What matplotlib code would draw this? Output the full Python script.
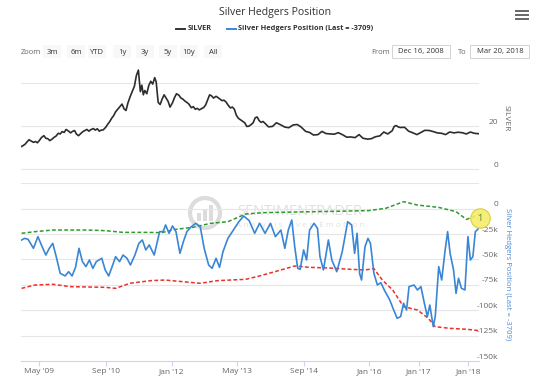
import matplotlib.pyplot as plt
from matplotlib.patches import Rectangle, Ellipse
import matplotlib.transforms as mtransforms

plt.rcParams['font.family'] = ['Open Sans', 'DejaVu Sans']

W, H = 550, 389

# silver price, USD (x = decimal year)
silver_t = [2008.96, 2009.00, 2009.04, 2009.08, 2009.12, 2009.17, 2009.21, 2009.25, 2009.29, 2009.33,
            2009.37, 2009.42, 2009.46, 2009.50, 2009.54, 2009.58, 2009.62, 2009.67, 2009.71, 2009.75,
            2009.79, 2009.83, 2009.87, 2009.92, 2009.96, 2010.00, 2010.04, 2010.08, 2010.12, 2010.17,
            2010.21, 2010.25, 2010.29, 2010.33, 2010.37, 2010.42, 2010.46, 2010.50, 2010.54, 2010.58,
            2010.62, 2010.67, 2010.71, 2010.75, 2010.79, 2010.83, 2010.87, 2010.92, 2010.96, 2011.00,
            2011.04, 2011.08, 2011.12, 2011.17, 2011.21, 2011.25, 2011.29, 2011.33, 2011.37, 2011.40,
            2011.43, 2011.46, 2011.50, 2011.54, 2011.58, 2011.62, 2011.66, 2011.69, 2011.73, 2011.77,
            2011.81, 2011.85, 2011.89, 2011.93, 2011.97, 2012.02, 2012.06, 2012.10, 2012.15, 2012.19,
            2012.23, 2012.27, 2012.31, 2012.35, 2012.40, 2012.44, 2012.48, 2012.52, 2012.56, 2012.60,
            2012.65, 2012.69, 2012.73, 2012.77, 2012.81, 2012.85, 2012.90, 2012.94, 2012.98, 2013.02,
            2013.06, 2013.10, 2013.15, 2013.19, 2013.23, 2013.27, 2013.31, 2013.35, 2013.40, 2013.44,
            2013.48, 2013.52, 2013.56, 2013.60, 2013.65, 2013.69, 2013.73, 2013.77, 2013.81, 2013.85,
            2013.90, 2013.96, 2014.04, 2014.12, 2014.21, 2014.29, 2014.37, 2014.46, 2014.54, 2014.62,
            2014.71, 2014.79, 2014.87, 2014.96, 2015.04, 2015.12, 2015.21, 2015.29, 2015.37, 2015.46,
            2015.54, 2015.62, 2015.71, 2015.79, 2015.87, 2015.96, 2016.04, 2016.12, 2016.21, 2016.29,
            2016.37, 2016.46, 2016.50, 2016.54, 2016.58, 2016.62, 2016.71, 2016.79, 2016.87, 2016.96,
            2017.04, 2017.12, 2017.21, 2017.29, 2017.37, 2017.46, 2017.54, 2017.62, 2017.71, 2017.79,
            2017.87, 2017.96, 2018.04, 2018.12, 2018.21]
silver_v = [10.4, 10.9, 11.5, 12.6, 13.6, 12.9, 12.4, 12.8, 12.2, 13.3,
            14.6, 15.5, 14.3, 14.1, 13.2, 13.8, 14.6, 15.4, 16.6, 16.3,
            17.4, 17.0, 18.4, 17.6, 16.8, 17.5, 17.9, 16.2, 15.5, 16.6,
            17.4, 17.9, 18.4, 17.6, 18.3, 18.8, 18.1, 18.7, 17.6, 18.1,
            18.2, 19.4, 20.8, 22.0, 23.6, 24.8, 26.6, 28.0, 29.2, 30.2,
            28.0, 27.2, 30.8, 34.0, 36.2, 38.5, 43.5, 46.0, 36.0, 39.0,
            34.5, 36.5, 35.0, 38.8, 40.8, 39.5, 42.5, 40.5, 31.0, 30.0,
            32.5, 34.5, 33.0, 31.5, 28.8, 30.8, 33.2, 35.0, 34.3, 33.0,
            32.5, 31.6, 31.0, 30.2, 28.5, 29.0, 27.8, 28.2, 27.5, 28.0,
            28.6, 29.8, 32.2, 34.5, 34.0, 33.0, 33.8, 33.2, 32.5, 31.8,
            32.0, 31.2, 29.5, 28.4, 28.8, 27.8, 25.0, 23.6, 22.8, 22.2,
            21.5, 19.8, 19.9, 20.5, 21.5, 23.8, 24.2, 22.5, 21.7, 22.1,
            21.0, 19.6, 19.8, 21.5, 20.5, 19.5, 19.2, 20.5, 20.7, 19.5,
            17.5, 17.0, 15.8, 16.0, 17.5, 16.5, 16.3, 16.2, 16.9, 15.9,
            14.8, 14.9, 14.6, 16.0, 14.3, 13.9, 14.1, 15.0, 15.4, 17.2,
            16.3, 17.8, 19.8, 20.2, 19.6, 19.3, 19.4, 17.6, 16.9, 16.0,
            17.0, 18.0, 17.9, 17.4, 16.8, 16.6, 16.0, 17.2, 16.8, 17.1,
            16.9, 16.3, 17.2, 16.6, 16.4]

# hedgers net position, thousands of contracts
hedge_t = [2008.97, 2009.03, 2009.10, 2009.21, 2009.30, 2009.37, 2009.46, 2009.53, 2009.60, 2009.67,
           2009.75, 2009.85, 2009.92, 2009.99, 2010.06, 2010.13, 2010.20, 2010.27, 2010.34, 2010.41,
           2010.48, 2010.59, 2010.66, 2010.73, 2010.80, 2010.87, 2010.95, 2011.02, 2011.10, 2011.17,
           2011.26, 2011.34, 2011.41, 2011.48, 2011.55, 2011.65, 2011.76, 2011.83, 2011.88, 2011.95,
           2012.02, 2012.09, 2012.17, 2012.24, 2012.31, 2012.40, 2012.49, 2012.58, 2012.66, 2012.75,
           2012.82, 2012.90, 2012.97, 2013.04, 2013.14, 2013.25, 2013.36, 2013.46, 2013.57, 2013.68,
           2013.78, 2013.89, 2014.00, 2014.10, 2014.21, 2014.29, 2014.36, 2014.43, 2014.49, 2014.55,
           2014.60, 2014.67, 2014.73, 2014.79, 2014.88, 2014.95, 2015.00, 2015.07, 2015.17, 2015.24,
           2015.34, 2015.45, 2015.56, 2015.64, 2015.70, 2015.75, 2015.80, 2015.84, 2015.91, 2015.97,
           2016.02, 2016.09, 2016.16, 2016.23, 2016.30, 2016.41, 2016.49, 2016.56, 2016.63, 2016.69,
           2016.75, 2016.80, 2016.90, 2016.97, 2017.04, 2017.11, 2017.17, 2017.22, 2017.29, 2017.33,
           2017.40, 2017.46, 2017.53, 2017.58, 2017.63, 2017.70, 2017.75, 2017.80, 2017.86, 2017.93,
           2017.99, 2018.04, 2018.09, 2018.14, 2018.21]
hedge_v = [-30.9, -29.3, -30.2, -39.1, -27.6, -35.8, -45.7, -39.1, -34.2, -47.3,
           -63.7, -66.3, -62.1, -66.3, -57.8, -39.1, -52.2, -57.1, -50.6, -58.8,
           -52.2, -48.9, -60.4, -66.3, -57.1, -47.3, -52.2, -45.7, -48.9, -55.5,
           -45.7, -34.2, -30.9, -40.7, -35.8, -45.7, -22.7, -22.7, -16.1, -24.3,
           -17.1, -22.7, -44.0, -32.5, -22.7, -17.8, -14.5, -17.8, -39.1, -55.5,
           -58.8, -48.9, -57.8, -42.4, -29.3, -21.1, -12.9, -7.3, -11.9, -24.3,
           -14.5, -24.3, -14.5, -27.6, -21.1, -39.1, -21.1, -11.2, -37.5, -58.8,
           -59.8, -40.7, -50.6, -21.1, -14.5, -19.4, -47.3, -60.4, -30.9, -50.6,
           -62.1, -42.4, -12.9, -16.1, -44.0, -24.3, -63.7, -70.3, -37.5, -29.3,
           -34.2, -63.7, -75.2, -72.9, -80.1, -89.9, -99.8, -108.0, -106.3, -93.2,
           -99.8, -76.8, -75.2, -80.1, -76.8, -93.2, -106.3, -94.9, -116.2, -106.3,
           -57.1, -70.3, -40.7, -22.7, -44.0, -60.4, -83.4, -68.6, -78.5, -80.1,
           -27.6, -50.6, -47.3, -22.7, -19.4]

# upper (green) and lower (red) dashed bands, thousands
green_t = [2008.97, 2009.24, 2009.60, 2010.31, 2010.66, 2011.02, 2011.51, 2011.80, 2012.08, 2012.44,
           2012.79, 2013.14, 2013.50, 2013.85, 2014.56, 2015.27, 2015.98, 2016.33, 2016.69, 2016.97,
           2017.40, 2017.75, 2017.96, 2018.11, 2018.21]
green_v = [-24.3, -22.7, -21.1, -21.1, -21.7, -23.4, -23.4, -23.7, -20.4, -18.4,
           -14.5, -12.9, -5.3, -4.0, -3.3, -2.7, -2.0, 0.3, 6.8, 3.5,
           1.2, -3.0, -10.6, -8.0, -5.3]
red_t = [2008.97, 2009.24, 2009.60, 2009.95, 2010.66, 2010.87, 2011.16, 2011.58, 2011.87, 2012.22,
         2012.58, 2012.93, 2013.50, 2013.78, 2014.21, 2014.49, 2014.78, 2015.20, 2015.63, 2015.91,
         2016.09, 2016.26, 2016.47, 2016.69, 2016.97, 2017.19, 2017.33, 2017.61, 2017.97, 2018.21]
red_v = [-78.5, -75.2, -74.5, -76.8, -77.5, -78.5, -73.5, -70.9, -70.3, -71.9,
         -73.5, -70.9, -69.6, -66.3, -60.4, -56.5, -57.8, -58.5, -59.8, -60.4,
         -59.1, -70.3, -80.1, -96.5, -99.8, -108.0, -116.2, -117.8, -118.8, -120.1]

tick_pos = [2009.33, 2010.67, 2012.0, 2013.33, 2014.67, 2016.0, 2017.0, 2018.0]
tick_lbl = ["May '09", "Sep '10", "Jan '12", "May '13", "Sep '14", "Jan '16", "Jan '17", "Jan '18"]
x0, x1 = 2008.958, 2018.214


def fx(px):
    return px / W


def fy(py):
    return 1 - py / H


fig = plt.figure(figsize=(5.5, 3.89), dpi=100)
fig.patch.set_facecolor('white')

# watermark
wm = '#dcdcdc'
fig.add_artist(Ellipse((fx(205), fy(213)), 30 / W, 30 / H, fill=False, ec=wm, lw=3, zorder=-1))
for i, hgt in enumerate([8, 12, 16]):
    fig.add_artist(Rectangle((fx(197 + i * 6), fy(221)), 4 / W, hgt / H, fc=wm, ec='none', zorder=-1))
fig.text(fx(300), fy(212), 'SENTIMENTRADER', ha='center', va='center', fontsize=10.5,
         color='#e0e0e0', zorder=-1)
fig.text(fx(300), fy(225), 'A n a l y s i s   o v e r   E m o t i o n', ha='center', va='center',
         fontsize=6, color='#e0e0e0', zorder=-1)

grid_c = '#e6e6e6'
lab_c = '#666666'
up_px = 3.5 / 72  # labels sit a bit above their gridline
shift = mtransforms.ScaledTranslation(0, up_px, fig.dpi_scale_trans)

# upper panel: silver
ax1 = fig.add_axes([fx(21), fy(183), 458 / W, (183 - 65) / H])
ax1.set_facecolor('none')
ax1.set_xlim(x0, x1)
ax1.set_ylim(-6.51, 48.37)
for v in [0, 20, 40]:
    ax1.axhline(v, color=grid_c, lw=0.8, zorder=0)
ax1.plot(silver_t, silver_v, color='#2d2d2d', lw=1.2, zorder=3)
ax1.set_xticks([])
ax1.set_yticks([0, 20])
ax1.set_yticklabels(['0', '20'])
ax1.yaxis.tick_right()
ax1.tick_params(axis='y', length=0, pad=13.7, labelsize=6, labelcolor=lab_c)
for lb in ax1.get_yticklabels():
    lb.set_horizontalalignment('right')
    lb.set_transform(lb.get_transform() + shift)
for s in ax1.spines.values():
    s.set_visible(False)

# lower panel: hedgers
ax2 = fig.add_axes([fx(21), fy(361), 458 / W, (361 - 183.2) / H])
ax2.set_facecolor('none')
ax2.set_xlim(x0, x1)
ax2.set_ylim(-150, 25)
for v in [25, 0, -25, -50, -75, -100, -125]:
    ax2.axhline(v, color=grid_c, lw=0.8, zorder=0)
ax2.plot(green_t, green_v, color='#2e9a2e', lw=1.1, ls=(0, (2.5, 1.5)), zorder=3)
ax2.plot(red_t, red_v, color='#e8302c', lw=1.1, ls=(0, (2.5, 1.5)), zorder=3)
ax2.plot(hedge_t, hedge_v, color='#3a86d6', lw=1.2, zorder=4)
ax2.plot([x1 + 0.02], [-9.3], 'o', ms=14, mfc='#f4ee6a', mec='#d6c93a', mew=0.8,
         alpha=0.9, clip_on=False, zorder=6)
ax2.text(x1 + 0.02, -9.3, '1', ha='center', va='center', fontsize=6.5, color='#5a7a2a',
         zorder=7, clip_on=False)

ax2.set_yticks([0, -25, -50, -75, -100, -125, -150])
ax2.set_yticklabels(['0', '-25k', '-50k', '-75k', '-100k', '-125k', '-150k'])
ax2.yaxis.tick_right()
ax2.tick_params(axis='y', length=0, pad=13.7, labelsize=6, labelcolor=lab_c)
for lb in ax2.get_yticklabels():
    lb.set_horizontalalignment('right')
    lb.set_transform(lb.get_transform() + shift)

ax2.set_xticks(tick_pos)
ax2.set_xticklabels(tick_lbl)
ax2.tick_params(axis='x', length=3.6, width=0.8, color='#ccd6eb', pad=1.5,
                labelsize=6, labelcolor=lab_c)
for k, s in ax2.spines.items():
    s.set_visible(k == 'bottom')
ax2.spines['bottom'].set_color('#ccd6eb')
ax2.spines['bottom'].set_linewidth(0.8)

# axis titles
fig.text(fx(506), fy(118), 'SILVER', rotation=270, ha='center', va='center', fontsize=6, color=lab_c)
fig.text(fx(507), fy(274), 'Silver Hedgers Position (Last = -3709)', rotation=270,
         ha='center', va='center', fontsize=5.6, color='#4a8ad4')

# title and legend
fig.text(fx(275), fy(12), 'Silver Hedgers Position', ha='center', va='center', fontsize=7.6, color='#333333')
fig.add_artist(plt.Line2D([fx(176), fx(185)], [fy(29), fy(29)], color='#333333', lw=1.4))
fig.text(fx(188), fy(29), 'SILVER', ha='left', va='center', fontsize=5.3, fontweight='bold', color='#333333')
fig.add_artist(plt.Line2D([fx(227), fx(236)], [fy(29), fy(29)], color='#3a86d6', lw=1.4))
fig.text(fx(238), fy(29), 'Silver Hedgers Position (Last = -3709)', ha='left', va='center',
         fontsize=5.3, fontweight='bold', color='#333333')

# range selector
fig.text(fx(31), fy(52), 'Zoom', ha='center', va='center', fontsize=5.5, color=lab_c)
btns = ['3m', '6m', 'YTD', '1y', '3y', '5y', '10y', 'All']
bx = [52, 76, 97, 122, 145, 168, 189, 213]
for b, x in zip(btns, bx):
    fig.add_artist(Rectangle((fx(x - 9), fy(58)), 18 / W, 13 / H, fc='#f8f8f8', ec='none'))
    fig.text(fx(x), fy(52), b, ha='center', va='center', fontsize=5.5, color='#333333')
fig.text(fx(381), fy(52), 'From', ha='center', va='center', fontsize=5.5, color=lab_c)
fig.add_artist(Rectangle((fx(392), fy(58)), 58 / W, 13 / H, fc='white', ec='#cccccc', lw=0.6))
fig.text(fx(421), fy(52), 'Dec 16, 2008', ha='center', va='center', fontsize=5.5, color='#333333')
fig.text(fx(462), fy(52), 'To', ha='center', va='center', fontsize=5.5, color=lab_c)
fig.add_artist(Rectangle((fx(470), fy(58)), 59 / W, 13 / H, fc='white', ec='#cccccc', lw=0.6))
fig.text(fx(500), fy(52), 'Mar 20, 2018', ha='center', va='center', fontsize=5.5, color='#333333')

# menu icon
for yy in [11, 15, 19]:
    fig.add_artist(plt.Line2D([fx(516), fx(528)], [fy(yy), fy(yy)], color='#666666', lw=1.4))

fig.savefig('out.png', dpi=100)
